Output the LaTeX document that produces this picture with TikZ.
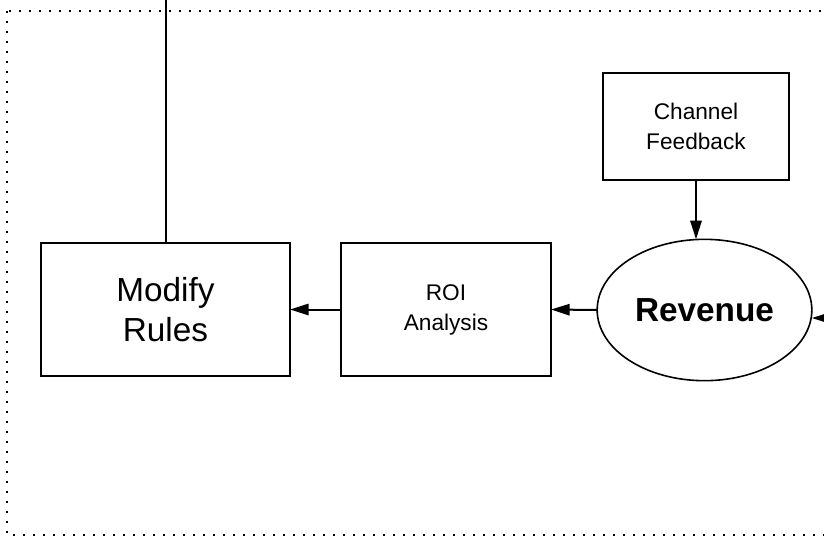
\documentclass[tikz,border=0pt]{standalone}
\usepackage{fontspec}
\setmainfont{Liberation Sans}
\usetikzlibrary{shapes.geometric,arrows.meta}

\begin{document}
\begin{tikzpicture}[
    x=0.75pt, y=-0.75pt,
    box/.style={draw, rectangle, line width=1.5pt, inner sep=0pt, outer sep=0pt, align=center},
    big/.style={font=\fontsize{25}{30}\selectfont},
    small/.style={font=\fontsize{17}{22.5}\selectfont},
    oval/.style={draw, ellipse, line width=1.2pt, inner sep=0pt, outer sep=0pt,
        minimum width=161pt, minimum height=106pt, font=\fontsize{25}{30}\selectfont\bfseries},
    arr/.style={line width=1.5pt, -{Triangle[length=14pt, width=8.5pt]}},
    border/.style={line width=1.5pt, dash pattern=on 1.5pt off 6pt}
]
    \useasboundingbox (0,0) rectangle (824,537);

    % Dotted frame (runs off the right side)
    \draw[border] (7,11) rectangle (845,535);

    % Boxes
    \node[box, big, minimum width=186.75pt, minimum height=99.75pt] (rules) at (165.5,309.5) {Modify\\Rules};
    \node[box, small, minimum width=157.5pt, minimum height=99.75pt] (roi) at (446,309.5) {ROI\\Analysis};
    \node[box, small, minimum width=139.5pt, minimum height=80.25pt] (feedback) at (696,126.5) {Channel\\Feedback};
    \node[oval] (revenue) at (704.5,310) {Revenue};

    % Loose ends
    \coordinate (up) at (166,-5);
    \coordinate (side) at (850,318);

    % Connections
    \draw[line width=1.5pt] (up) -- (up |- rules.north);
    \draw[arr] (feedback.south) -- (feedback.south |- revenue.north);
    \draw[arr] (revenue.west) -- (roi.east);
    \draw[arr] (roi.west) -- (rules.east);
    \draw[arr] (side) -- (side -| revenue.east);

\end{tikzpicture}
\end{document}
